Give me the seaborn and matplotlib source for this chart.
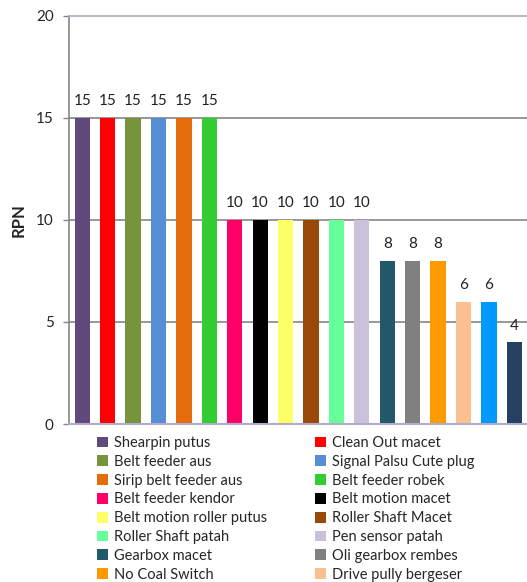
import matplotlib
matplotlib.use("Agg")
import matplotlib.pyplot as plt
import seaborn as sns
import pandas as pd
from matplotlib.patches import Patch

categories = [
    "Shearpin putus", "Clean Out macet", "Belt feeder aus", "Signal Palsu Cute plug",
    "Sirip belt feeder aus", "Belt feeder robek", "Belt feeder kendor", "Belt motion macet",
    "Belt motion roller putus", "Roller Shaft Macet", "Roller Shaft patah", "Pen sensor patah",
    "Gearbox macet", "Oli gearbox rembes", "No Coal Switch", "Drive pully bergeser",
    "Item 17", "Item 18",
]
rpn = [15, 15, 15, 15, 15, 15, 10, 10, 10, 10, 10, 10, 8, 8, 8, 6, 6, 4]
colors = [
    "#604a7b", "#ff0000", "#77933c", "#558ed5", "#e46c0a", "#33cc33",
    "#ff0066", "#000000", "#ffff66", "#984807", "#66ff99", "#ccc1da",
    "#215968", "#808080", "#ff9900", "#fac090", "#0099ff", "#254061",
]
yticks = [0, 5, 10, 15, 20]
legend_count = 16

sns.set_theme(style="white")
plt.rcParams["font.family"] = ["Lato", "DejaVu Sans"]

df = pd.DataFrame({"cat": categories, "rpn": rpn})

fig = plt.figure(figsize=(5.27, 5.82), dpi=100)
W, H = 527, 582
ax = fig.add_axes([69 / W, 1 - 424 / H, 458 / W, 408 / H])

sns.barplot(data=df, x="cat", y="rpn", hue="cat", palette=colors,
            dodge=False, legend=False, width=0.6, saturation=1, ax=ax,
            linewidth=0, edgecolor="none")

for c in ax.containers:
    ax.bar_label(c, fmt="%g", padding=7, fontsize=11, color="#222222")

ax.set_ylim(0, 20)
ax.set_xlim(-0.52, 17.5)
ax.set_yticks(yticks)
ax.set_xticks([])
ax.set_xlabel("")
ax.set_ylabel("RPN", fontsize=12, fontweight="bold", labelpad=7)
ax.tick_params(axis="y", labelsize=11, length=4, width=1, color="#868686",
               pad=7, left=True, direction="out")
for v in yticks[1:-1]:
    ax.axhline(v, color="#868686", lw=1.2, zorder=0)

ax.spines["left"].set_color("#868686")
ax.spines["left"].set_linewidth(1.2)
ax.spines["top"].set_color("#b3a9c9")
ax.spines["top"].set_linewidth(1.2)
ax.spines["bottom"].set_color("#b3a9c9")
ax.spines["bottom"].set_linewidth(1.5)
ax.spines["right"].set_visible(False)

handles = [Patch(facecolor=colors[i], edgecolor="none", label=categories[i])
           for i in range(legend_count)]
left_h = handles[0::2]
right_h = handles[1::2]
common = dict(frameon=False, fontsize=10.5, handlelength=0.75, handleheight=0.75,
              handletextpad=0.4, labelspacing=0.33, borderaxespad=0, borderpad=0,
              loc="upper left")
fig.legend(handles=left_h, bbox_to_anchor=(97 / W, 1 - 436 / H), **common)
fig.legend(handles=right_h, bbox_to_anchor=(315 / W, 1 - 436 / H), **common)

fig.savefig("out.png", dpi=100)
